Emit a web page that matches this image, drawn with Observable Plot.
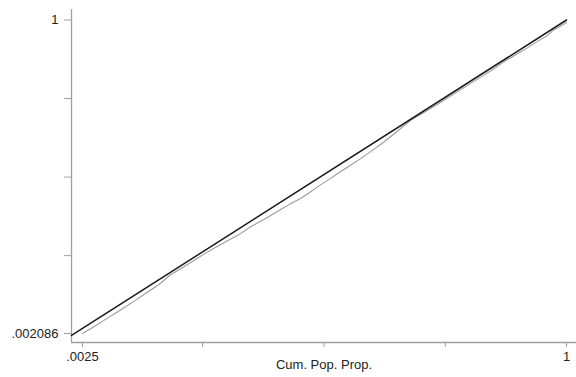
<!DOCTYPE html>
<html>
<head>
<meta charset="utf-8">
<script src="https://cdn.jsdelivr.net/npm/d3@7"></script>
<script src="https://cdn.jsdelivr.net/npm/@observablehq/plot@0.6"></script>
<style>
  html, body { margin: 0; padding: 0; background: #fff; }
  #chart svg { display: block; }
</style>
</head>
<body>
<div id="chart"></div>
<script>
// Gray curve (Cum. Pop. Prop. vs cumulative share)
const curveX = [0.0025, 0.02, 0.05, 0.08, 0.11, 0.136, 0.16, 0.184, 0.21, 0.23, 0.252, 0.28, 0.307, 0.321, 0.349, 0.38, 0.41, 0.43, 0.452, 0.47, 0.486, 0.51, 0.527, 0.55, 0.575, 0.60, 0.623, 0.648, 0.678, 0.70, 0.73, 0.76, 0.795, 0.82, 0.85, 0.87, 0.898, 0.92, 0.94, 0.96, 0.973, 0.985, 1.0];
const curveY = [0.002086, 0.018, 0.047, 0.076, 0.106, 0.1335, 0.158, 0.189, 0.213, 0.232, 0.254, 0.279, 0.302, 0.313, 0.342, 0.368, 0.396, 0.414, 0.432, 0.450, 0.468, 0.492, 0.510, 0.533, 0.558, 0.585, 0.611, 0.642, 0.680, 0.700, 0.728, 0.757, 0.791, 0.815, 0.844, 0.866, 0.892, 0.912, 0.932, 0.950, 0.968, 0.978, 0.992];
// Black reference line
const refX = [-0.0202, 1.0];
const refY = [-0.004, 1.0];
// Axis ticks and labels
const xTicks = [0.0025, 0.25, 0.5, 0.75, 1];
const yTicks = [0.002086, 0.25, 0.5, 0.75, 1];
const xTickLabels = {0.0025: ".0025", 1: "1"};
const yTickLabels = {0.002086: ".002086", 1: "1"};
const xTitle = "Cum. Pop. Prop.";

const curve = curveX.map((x, i) => ({x, y: curveY[i]}));
const ref = refX.map((x, i) => ({x, y: refY[i]}));

const xDomain = [-0.0202, 1.0206];
const yDomain = [-0.0265, 1.0334];
const axisColor = "#a0a0a0";

const chart = Plot.plot({
  width: 576,
  height: 377,
  marginLeft: 71,
  marginRight: 0,
  marginTop: 9,
  marginBottom: 35,
  style: {fontFamily: "'Liberation Sans', Arial, sans-serif", fontSize: "13px", color: "#222", background: "#fff"},
  x: {domain: xDomain},
  y: {domain: yDomain},
  marks: [
    Plot.ruleX([xDomain[0]], {stroke: axisColor, strokeWidth: 1.3}),
    Plot.ruleY([yDomain[0]], {stroke: axisColor, strokeWidth: 1.3}),
    Plot.axisX({ticks: xTicks, tickSize: 5, tickPadding: 4, stroke: axisColor, fill: "#222",
      tickFormat: d => xTickLabels[d] ?? "", label: null}),
    Plot.axisY({ticks: yTicks, tickSize: 7, tickPadding: 6, stroke: axisColor, fill: "#222",
      tickFormat: d => yTickLabels[d] ?? "", label: null}),
    Plot.line(curve, {x: "x", y: "y", stroke: "#9a9a9a", strokeWidth: 1.1}),
    Plot.line(ref, {x: "x", y: "y", stroke: "#1a1a1a", strokeWidth: 1.5}),
    Plot.text([xTitle], {frameAnchor: "bottom", dy: 26, text: d => d, fill: "#222", fontSize: 13})
  ]
});
document.getElementById("chart").appendChild(chart);
</script>
</body>
</html>
